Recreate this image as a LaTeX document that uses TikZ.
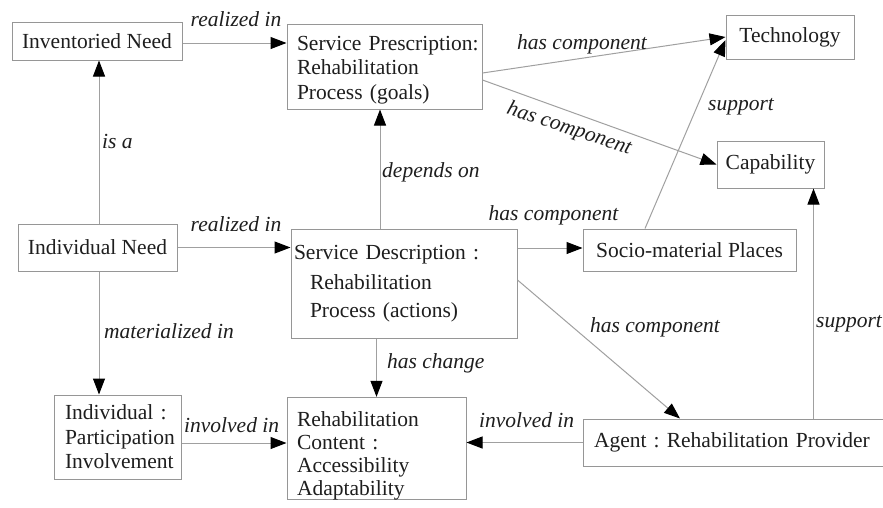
\documentclass[tikz,border=0pt]{standalone}
\usepackage{fontspec}
\setmainfont{Liberation Serif}
\usetikzlibrary{arrows.meta,calc}
\definecolor{linegray}{RGB}{160,160,160}
\definecolor{boxgray}{RGB}{150,150,150}
\definecolor{textc}{RGB}{30,30,30}
\begin{document}
\begin{tikzpicture}[x=1pt,y=-1pt,
  box/.style={draw=boxgray, line width=1pt, inner sep=0pt, text=textc,
    font=\fontsize{21.5}{24.5}\selectfont\frenchspacing},
  lbox/.style={box, align=left},
  lbl/.style={text=textc, inner sep=0pt, font=\itshape\fontsize{21.5}{24}\selectfont},
  conn/.style={draw=linegray, line width=1pt, -{Triangle[length=16pt,width=12pt,color=black]}}]
\fill[white] (0,0) rectangle (883,507);
\useasboundingbox (0,0) rectangle (883,507);

% boxes
\node[box, minimum width=170pt, minimum height=38pt] (inv) at (97,41) {Inventoried Need};
\node[lbox, inner xsep=10pt, text width=175pt, minimum height=85pt] (presc) at (384.5,66.5)
  {\rule{0pt}{20.7pt}\mbox{Service Prescription:}\\\mbox{Rehabilitation}\\\mbox{Process (goals)}};
\node[box, minimum width=128pt, minimum height=44pt] (tech) at (790,37) {Technology};
\node[box, minimum width=107pt, minimum height=47pt] (cap) at (770.5,164.5) {Capability};
\node[box, minimum width=159pt, minimum height=47pt] (ind) at (97.5,247.5) {Individual Need};
\node[lbox, inner xsep=11pt, text width=105pt, minimum height=84pt] (part) at (117.5,437)
  {\mbox{Individual :}\\\mbox{Participation}\\\mbox{Involvement}};
\node[lbox, inner xsep=3pt, text width=220pt, minimum height=109pt] (desc) at (404,283.5)
  {\mbox{Service Description :}\\[6pt]\hspace*{16pt}\mbox{Rehabilitation}\\[3.5pt]\hspace*{16pt}\mbox{Process (actions)}};
\node[lbox, inner xsep=10pt, text width=159pt, minimum height=99pt] (cont) at (376.5,448.5)
  {\rule{0pt}{28.7pt}\mbox{Rehabilitation}\\[-1.5pt]\mbox{Content :}\\[-1.5pt]\mbox{Accessibility}\\[-1.5pt]\mbox{Adaptability}};
\node[box, minimum width=213pt, minimum height=42pt] (soc) at (689.5,250) {Socio-material Places};
\node[lbox, inner xsep=11pt, text width=288pt, minimum height=47pt] (agent) at (738,442.5)
  {\mbox{Agent : Rehabilitation Provider}};

% connectors
\coordinate (c1) at ($(inv.east)+(0,2)$);
\draw[conn] (c1) -- (c1 -| presc.west);
\coordinate (c2) at ($(ind.north)+(1.5,0)$);
\draw[conn] (c2) -- (c2 |- inv.south);
\draw[conn] (ind.east) -- (ind.east -| desc.west);
\coordinate (c4) at ($(ind.south)+(1.5,0)$);
\draw[conn] (c4) -- (c4 |- part.north);
\coordinate (c5) at ($(presc.south)+(-4.5,0)$);
\draw[conn] (c5 |- desc.north) -- (c5);
\draw[conn] (cont.north |- desc.south) -- (cont.north);
\coordinate (c7) at ($(part.east)+(0,6)$);
\draw[conn] (c7) -- (c7 -| cont.west);
\draw[conn] (agent.west) -- (agent.west -| cont.east);
\coordinate (c9) at ($(soc.west)+(0,-2)$);
\draw[conn] (c9 -| desc.east) -- (c9);
\coordinate (c10) at ($(cap.south east)+(-11,0)$);
\draw[conn] (c10 |- agent.north) -- (c10);
\draw[conn] ($(presc.east)+(0,6.5)$) -- (tech.west);
\draw[conn] ($(presc.east)+(0,13.5)$) -- (cap.west);
\draw[conn] ($(soc.north)+(-44.5,0)$) -- ($(tech.west)+(0,3)$);
\draw[conn] ($(desc.east)+(0,-3.5)$) -- ($(agent.north)+(-58,0)$);

% labels
\node[lbl, anchor=base] (l1) at (236,26) {realized in};
\node[lbl, anchor=base west] (l2) at (102,148) {is a};
\node[lbl, anchor=base] (l3) at (236,231) {realized in};
\node[lbl, anchor=base west] (l4) at (382,177) {depends on};
\node[lbl, anchor=base] (l5) at (582,49) {has component};
\node[lbl, anchor=base, rotate=-18.3] (l6) at (567.5,134) {has component};
\node[lbl, anchor=base west] (l7) at (708,110) {support};
\node[lbl, anchor=base] (l8) at (553.5,220) {has component};
\node[lbl, anchor=base west] (l9) at (590,332) {has component};
\node[lbl, anchor=base west] (l10) at (816,327) {support};
\node[lbl, anchor=base west] (l11) at (387,368) {has change};
\node[lbl, anchor=base west] (l12) at (104,338) {materialized in};
\node[lbl, anchor=base west] (l13) at (184,432) {involved in};
\node[lbl, anchor=base west] (l14) at (479,427) {involved in};
\end{tikzpicture}
\end{document}
